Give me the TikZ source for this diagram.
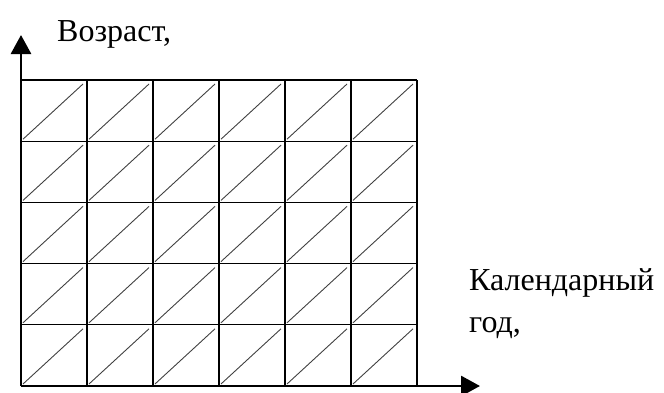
\documentclass[tikz,border=0pt]{standalone}
\usepackage{fontspec}
\setmainfont{Liberation Serif}
\usetikzlibrary{arrows.meta,positioning}

\begin{document}
\begin{tikzpicture}[x=1pt, y=1pt,
        caption/.style={anchor=base west, inner sep=0pt, font=\fontsize{32}{42}\selectfont},
        gridline/.style={line width=1.3pt, black},
        diag/.style={line width=0.9pt, black!75},
        axisarrow/.style={-{Triangle[length=19pt,width=20pt]}, line width=2.8pt}
    ]
        \useasboundingbox (0,0) rectangle (664,392);

        % Grid
        \foreach \i in {0,...,5} {
            \foreach \j in {0,...,4} {
                \draw[diag] ({21+66*\i+2},{6+61.2*\j+2}) -- ({21+66*(\i+1)-4},{6+61.2*(\j+1)-4});
            }
        }
        \foreach \i in {1,...,6} \draw[gridline] ({21+66*\i},6) -- ({21+66*\i},312);
        \foreach \j in {1,...,5} \draw[gridline] (21,{6+61.2*\j}) -- (417,{6+61.2*\j});

        % Nodes
        \coordinate (origin) at (21,6);
        \coordinate (ytip) at (21,357);
        \coordinate (xtip) at (480,6);
        \node[caption] (age) at (57,350) {Возраст,};
        \node[caption] (year) at (469,102) {Календарный};
        \node[caption] (yearb) at ([yshift=-42pt]year.base west) {год,};

        % Arrows
        \draw[axisarrow] (origin) -- (ytip);
        \draw[axisarrow] (origin) -- (xtip);
    \end{tikzpicture}
\end{document}
